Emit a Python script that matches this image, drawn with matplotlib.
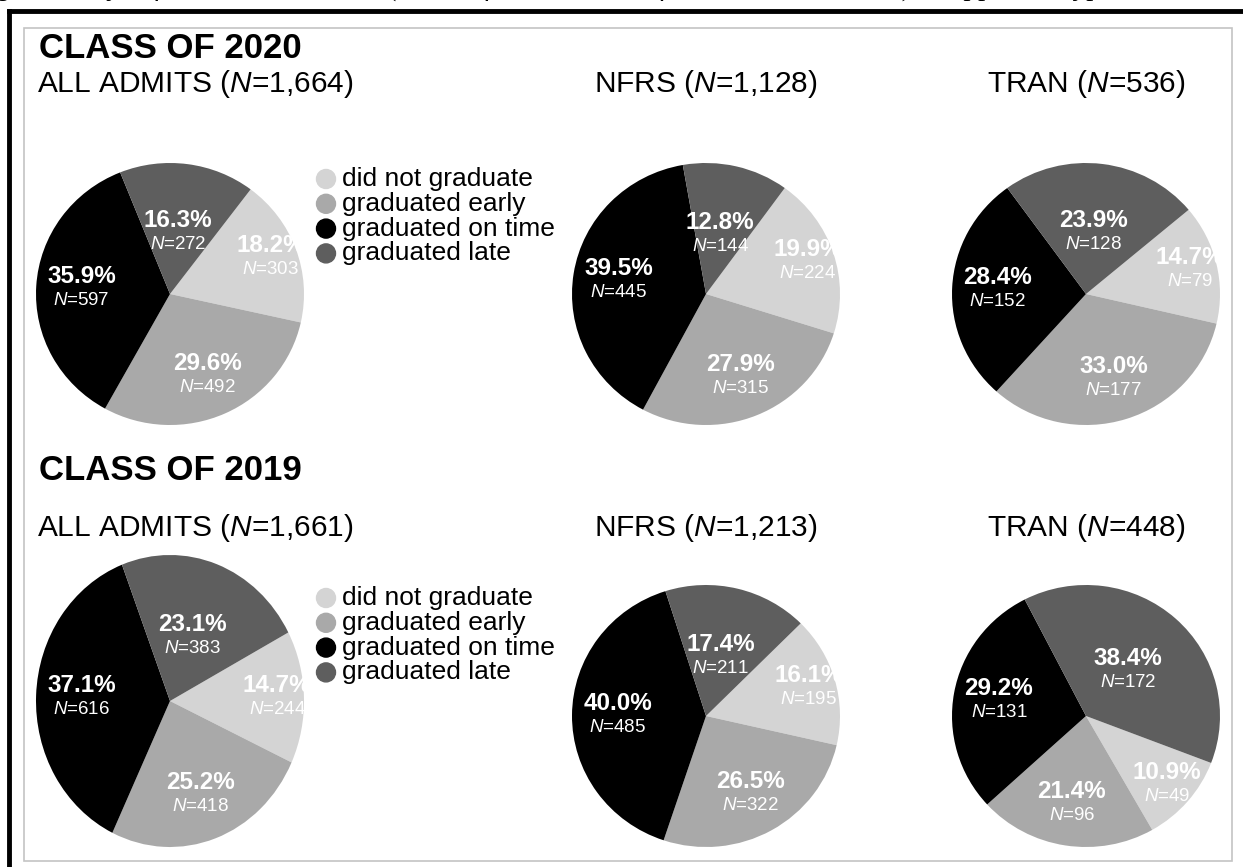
import numpy as np
import matplotlib
matplotlib.use("Agg")
import matplotlib.pyplot as plt
from matplotlib.patches import Rectangle, Ellipse
from matplotlib.lines import Line2D

plt.rcParams['font.family'] = ['Liberation Sans', 'DejaVu Sans']
plt.rcParams['mathtext.fontset'] = 'custom'
plt.rcParams['mathtext.rm'] = 'Liberation Sans'
plt.rcParams['mathtext.it'] = 'Liberation Sans:italic'
plt.rcParams['mathtext.bf'] = 'Liberation Sans:bold'

# data
categories = ['did not graduate', 'graduated early', 'graduated on time', 'graduated late']
colors = ['#d4d4d4', '#a9a9a9', '#000000', '#5e5e5e']

groups = ['ALL ADMITS', 'NFRS', 'TRAN']
class_titles = ['CLASS OF 2020', 'CLASS OF 2019']
totals_2020 = ['1,664', '1,128', '536']
totals_2019 = ['1,661', '1,213', '448']

# counts in order: did not graduate, early, on time, late
counts_2020 = [[303, 492, 597, 272],
               [224, 315, 445, 144],
               [79, 177, 152, 128]]
counts_2019 = [[244, 418, 616, 383],
               [195, 322, 485, 211],
               [49, 96, 131, 172]]
pct_2020 = [[18.2, 29.6, 35.9, 16.3],
            [19.9, 27.9, 39.5, 12.8],
            [14.7, 33.0, 28.4, 23.9]]
pct_2019 = [[14.7, 25.2, 37.1, 23.1],
            [16.1, 26.5, 40.0, 17.4],
            [10.9, 21.4, 29.2, 38.4]]

# angle where the first wedge starts (clockwise)
start_2020 = [53, 54, 40]
start_2019 = [28, 45, -21]
# how far out the labels sit, per category
label_r = [0.8, 0.68, 0.66, 0.47]

W, H = 1243, 867
fig = plt.figure(figsize=(W / 100, H / 100), dpi=100)


def fx(px):
    return px / W


def fy(py):
    return 1 - py / H


# frames: thick black border (only top and left are inside the picture) and the grey panel
fig.add_artist(Line2D([fx(9), 1.01], [fy(11), fy(11)], color='black', lw=3.5))
fig.add_artist(Line2D([fx(9), fx(9)], [fy(11), -0.01], color='black', lw=3.5))
fig.patches.append(Rectangle((fx(24), fy(861)), fx(1232 - 24), fy(28) - fy(861),
                             transform=fig.transFigure, fill=False, ec='#c4c4c4', lw=1.2))

# clipped caption above the frame
fig.text(fx(-2), fy(-4), 'g Pathways of Admitted Students (Class of 2020, Class of 2019, NFRS, TRAN) in approved types',
         family='Liberation Serif', style='italic', fontsize=21, va='baseline', ha='left')

centers_x = [170, 706, 1086]
# pie placement in pixels: (centre y, half height) per pie
geom_2020 = [(294, 131), (294, 131), (294, 131)]
geom_2019 = [(701, 146), (716, 131), (716, 131)]
rx = 134
rows = [(class_titles[0], totals_2020, counts_2020, pct_2020, start_2020, geom_2020, 49, 84, 179),
        (class_titles[1], totals_2019, counts_2019, pct_2019, start_2019, geom_2019, 470, 528, 598)]

for title, totals, counts, pcts, starts, geom, title_y, sub_y, leg_y in rows:
    fig.text(fx(39), fy(title_y), title, fontsize=25, fontweight='bold', va='center', ha='left')
    for i, cx in enumerate(centers_x):
        label = groups[i] + ' ($\\mathit{N}$=' + totals[i] + ')'
        if i == 0:
            fig.text(fx(37), fy(sub_y), label, fontsize=21.5, va='center', ha='left')
        else:
            fig.text(fx(cx), fy(sub_y), label, fontsize=21.5, va='center', ha='center')

        cy, ry = geom[i]
        ax = fig.add_axes([fx(cx - rx), fy(cy + ry), fx(2 * rx), fy(cy - ry) - fy(cy + ry)])
        wedges, _ = ax.pie(counts[i], colors=colors, startangle=starts[i], counterclock=False,
                           radius=1, wedgeprops=dict(linewidth=0))
        ax.set_aspect('auto')
        ax.set_xlim(-1, 1)
        ax.set_ylim(-1, 1)
        ax.axis('off')
        dy = 12.0 / ry
        for k, (w, p, n) in enumerate(zip(wedges, pcts[i], counts[i])):
            mid = np.deg2rad((w.theta1 + w.theta2) / 2)
            x, y = label_r[k] * np.cos(mid), label_r[k] * np.sin(mid)
            ax.text(x, y + dy, '%.1f%%' % p, color='white', fontsize=17.5, fontweight='bold',
                    ha='center', va='center')
            ax.text(x, y - dy, '$\\mathit{N}$=%d' % n, color='white', fontsize=13.5,
                    ha='center', va='center')

    # legend
    for k, (c, name) in enumerate(zip(colors, categories)):
        yy = leg_y + k * 24.8
        fig.patches.append(Ellipse((fx(326), fy(yy)), fx(19), 19 / H, color=c,
                                   transform=fig.transFigure))
        fig.text(fx(342), fy(yy), name, fontsize=19, va='center', ha='left')

fig.savefig('out.png', dpi=100)
